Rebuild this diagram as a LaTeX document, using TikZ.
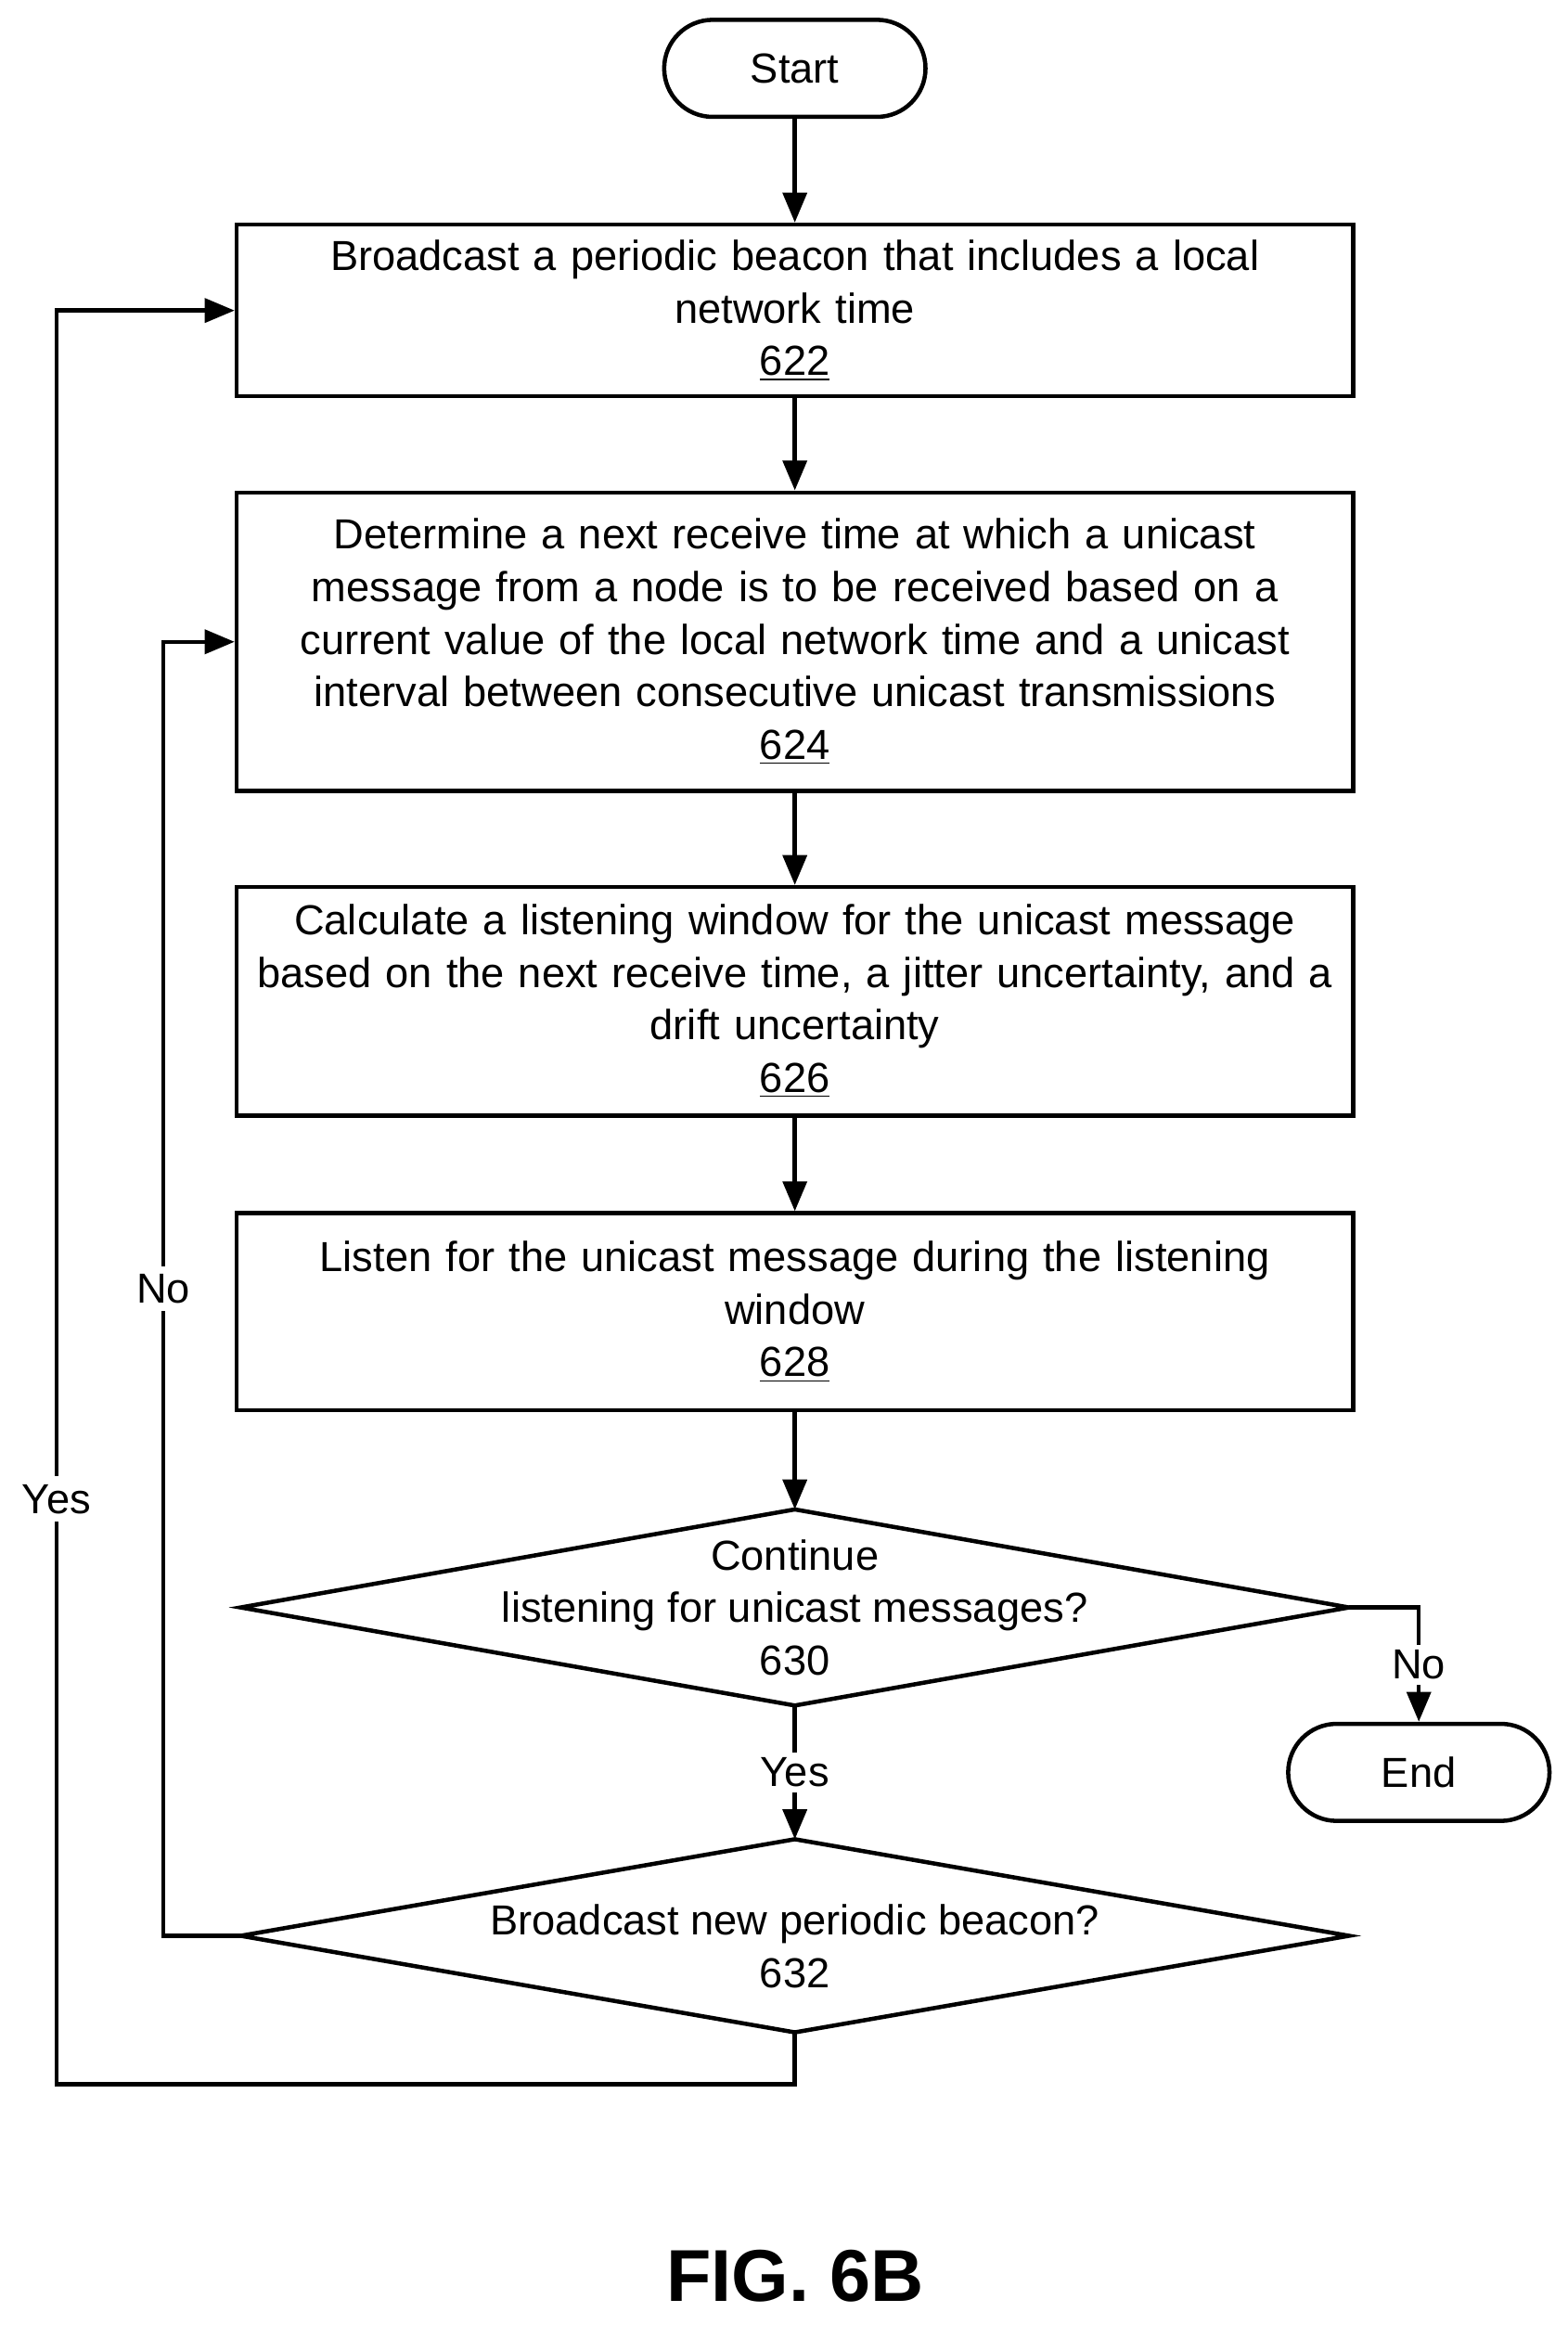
\documentclass[tikz,border=0pt]{standalone}
\usepackage{fontspec}
\setmainfont{Liberation Sans}
\usetikzlibrary{arrows.meta,positioning}

\begin{document}
\begin{tikzpicture}[x=0.0199cm,y=-0.0199cm,line width=1.6pt,
  every node/.style={font=\fontsize{16}{20}\selectfont},
  box/.style={draw,rectangle,minimum width=14.95cm,text width=14.6cm,align=center,inner sep=0pt},
  term/.style={draw,rounded corners=0.65cm,minimum width=3.5cm,minimum height=1.3cm},
  arr/.style={-{Triangle[length=0.4cm,width=0.32cm]}}]
\useasboundingbox (0,0) rectangle (1055,1565);
\node[term] (start) at (535,46) {Start};
\node[box,minimum height=2.3cm] (b622) at (535,209) {Broadcast a periodic beacon that includes a local\\network time\\\underline{622}};
\node[box,minimum height=4.0cm] (b624) at (535,432) {Determine a next receive time at which a unicast\\message from a node is to be received based on a\\current value of the local network time and a unicast\\interval between consecutive unicast transmissions\\\underline{624}};
\node[box,minimum height=3.06cm] (b626) at (535,674) {Calculate a listening window for the unicast message\\based on the next receive time, a jitter uncertainty, and a\\drift uncertainty\\\underline{626}};
\node[box,minimum height=2.64cm] (b628) at (535,883) {Listen for the unicast message during the listening\\window\\\underline{628}};
% decisions
\coordinate (d630t) at (535,1016); \coordinate (d630b) at (535,1148);
\coordinate (d630l) at (162,1082); \coordinate (d630r) at (908,1082);
\draw (d630t) -- (d630r) -- (d630b) -- (d630l) -- cycle;
\node[align=center] (t630) at (535,1082) {Continue\\listening for unicast messages?\\630};
\coordinate (d632t) at (535,1238); \coordinate (d632b) at (535,1368);
\coordinate (d632l) at (162,1303); \coordinate (d632r) at (908,1303);
\draw (d632t) -- (d632r) -- (d632b) -- (d632l) -- cycle;
\node[align=center] (t632) at (535,1310) {Broadcast new periodic beacon?\\632};
\node[term] (end) at (955,1193) {End};
% connectors
\draw[arr] (start) -- (b622);
\draw[arr] (b622) -- (b624);
\draw[arr] (b624) -- (b626);
\draw[arr] (b626) -- (b628);
\draw[arr] (b628) -- (d630t);
\draw[arr] (d630b) -- node[fill=white,inner sep=2pt] {Yes} (d632t);
\draw[arr] (d630r) -| node[pos=0.75,fill=white,inner sep=2pt] {No} (end);
\draw[arr] (d632l) -- (110,1303) -- node[pos=0.5,fill=white,inner sep=3pt] {No} (110,432) -- (b624.west);
\draw[arr] (d632b) -- (535,1403) -- (38,1403) -- node[pos=0.33,fill=white,inner sep=3pt] {Yes} (38,209) -- (b622.west);
\node[font=\bfseries\fontsize{28}{34}\selectfont] (fig) at (535,1532) {FIG. 6B};
\end{tikzpicture}
\end{document}
